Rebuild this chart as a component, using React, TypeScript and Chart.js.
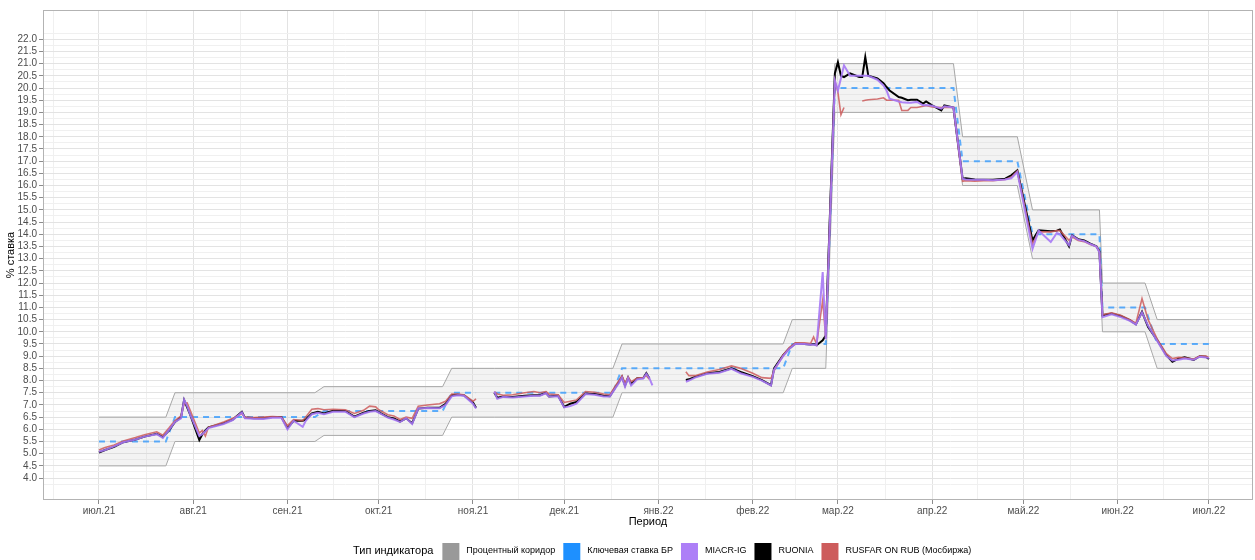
import React, { useEffect, useRef } from "react";
import { Chart, registerables } from "chart.js";
Chart.register(...registerables);

const FONT = '"Liberation Sans", Arial, sans-serif';

// x: days since 2021-07-01
const monthDays = [0, 31, 62, 92, 123, 153, 184, 215, 243, 274, 304, 335, 365];
const monthLabels = ["июл.21", "авг.21", "сен.21", "окт.21", "ноя.21", "дек.21", "янв.22", "фев.22", "мар.22", "апр.22", "май.22", "июн.22", "июл.22"];
const yBreaks = [4, 4.5, 5, 5.5, 6, 6.5, 7, 7.5, 8, 8.5, 9, 9.5, 10, 10.5, 11, 11.5, 12, 12.5, 13, 13.5, 14, 14.5, 15, 15.5, 16, 16.5, 17, 17.5, 18, 18.5, 19, 19.5, 20, 20.5, 21, 21.5, 22];

// Key rate (business-day change points)
const keyDays = [0, 22, 25, 71, 74, 113, 116, 124, 127, 130, 169, 172, 225, 228, 239, 242, 281, 284, 302, 307, 329, 330, 344, 348, 365];
const keyRate = [5.5, 5.5, 6.5, 6.5, 6.75, 6.75, 7.5, 7.5, null, 7.5, 7.5, 8.5, 8.5, 9.5, 9.5, 20, 20, 17, 17, 14, 14, 11, 11, 9.5, 9.5];

// Market rates
const rateDays = [0, 2, 5, 8, 12, 15, 19, 21, 23, 25, 27, 28, 29, 30, 33, 34, 35, 36, 41, 44, 47, 48, 51, 54, 57, 60, 62, 64, 67, 68, 70, 72, 74, 77, 81, 84, 87, 89, 91, 92, 95, 97, 99, 101, 103, 105, 108, 112, 114, 116, 118, 120, 123, 124, 127, 130, 131, 133, 136, 140, 143, 145, 147, 148, 151, 153, 155, 157, 160, 163, 166, 168, 171, 172, 173, 174, 175, 177, 179, 180, 181, 182, 187, 193, 194, 196, 200, 204, 208, 211, 215, 218, 221, 222, 225, 227, 229, 232, 234, 235, 236, 238, 239, 242, 243, 244, 245, 247, 250, 251, 252, 253, 256, 258, 259, 260, 263, 264, 266, 267, 269, 271, 272, 274, 277, 278, 281, 284, 285, 288, 291, 294, 298, 300, 302, 307, 309, 313, 315, 316, 319, 320, 322, 324, 326, 328, 329, 330, 333, 336, 339, 341, 343, 345, 348, 351, 353, 355, 357, 360, 362, 364, 365];
const ruonia = [5.05, 5.15, 5.28, 5.47, 5.58, 5.7, 5.82, 5.68, 5.95, 6.3, 6.5, 7.2, 6.9, 6.6, 5.56, 5.8, 5.95, 6.08, 6.25, 6.4, 6.72, 6.48, 6.45, 6.45, 6.5, 6.5, 6.05, 6.35, 6.35, 6.4, 6.65, 6.72, 6.65, 6.76, 6.75, 6.52, 6.68, 6.75, 6.78, 6.7, 6.5, 6.45, 6.32, 6.45, 6.25, 6.85, 6.88, 6.88, 7.05, 7.4, 7.42, 7.4, 7.1, 6.88, null, 7.5, 7.3, 7.35, 7.33, 7.38, 7.4, 7.4, 7.5, 7.35, 7.38, 6.92, 7.05, 7.12, 7.47, 7.45, 7.38, 7.36, 7.95, 8.15, 7.8, 8.12, 7.86, 8.09, 8.1, 8.3, 8.09, null, null, 8.02, 8.05, 8.15, 8.3, 8.35, 8.5, 8.35, 8.18, 8.02, 7.81, 8.5, 9.04, 9.32, 9.52, 9.5, 9.48, 9.5, 9.45, 9.65, 9.85, 20.6, 21.06, 20.5, 20.45, 20.6, 20.45, 20.45, 21.27, 20.5, 20.39, 20.2, 20.04, 19.9, 19.63, 19.6, 19.5, 19.52, 19.52, 19.36, 19.45, 19.29, 19.08, 19.29, 19.2, 16.28, 16.3, 16.25, 16.24, 16.24, 16.28, 16.42, 16.62, 13.75, 14.16, 14.12, 14.15, 14.2, 13.51, 13.96, 13.8, 13.75, 13.62, 13.51, 13.3, 10.68, 10.75, 10.65, 10.48, 10.31, 10.82, 10.2, 9.66, 9.04, 8.77, 8.9, 8.95, 8.85, 9.0, 8.98, 8.88];
const miacr = [5.08, 5.15, 5.3, 5.47, 5.58, 5.7, 5.8, 5.65, 5.97, 6.3, 6.45, 7.22, 6.95, 6.6, 5.72, 5.8, 5.92, 6.05, 6.22, 6.38, 6.7, 6.45, 6.43, 6.42, 6.47, 6.47, 6.0, 6.35, 6.1, 6.35, 6.62, 6.68, 6.62, 6.72, 6.72, 6.5, 6.65, 6.72, 6.75, 6.68, 6.48, 6.4, 6.3, 6.45, 6.22, 6.85, 6.87, 6.86, 7.0, 7.35, 7.4, 7.38, 7.05, 6.85, null, 7.55, 7.25, 7.33, 7.3, 7.35, 7.38, 7.38, 7.48, 7.35, 7.36, 6.9, 6.95, 7.05, 7.45, 7.42, 7.35, 7.35, 7.9, 8.12, 7.75, 8.1, 7.8, 8.05, 8.08, 8.28, 8.1, 7.8, null, 7.95, 8.0, 8.12, 8.28, 8.32, 8.48, 8.3, 8.15, 8.0, 7.8, 8.45, 9.0, 9.3, 9.5, 9.5, 9.47, 9.48, 9.44, 12.45, 9.7, 20.3, 19.9, 20.4, 20.93, 20.5, 20.5, 20.5, 20.5, 20.5, 20.34, 20.1, 19.9, 19.56, 19.45, 19.42, 19.4, 19.4, 19.43, 19.29, 19.3, 19.27, 19.15, 19.25, 19.2, 16.28, 16.25, 16.24, 16.24, 16.22, 16.25, 16.3, 16.55, 13.4, 14.15, 13.68, 14.05, 14.0, 13.55, 13.95, 13.78, 13.72, 13.6, 13.5, 13.25, 10.6, 10.72, 10.6, 10.45, 10.3, 10.8, 10.25, 9.62, 9.0, 8.82, 8.85, 8.9, 8.85, 8.98, 8.95, 8.92];
const rusfar = [5.15, 5.25, 5.36, 5.52, 5.66, 5.78, 5.9, 5.76, 6.05, 6.36, 6.55, 7.05, 7.08, 6.78, 5.85, 5.95, 5.72, 6.08, 6.3, 6.45, 6.65, 6.5, 6.48, 6.5, 6.52, 6.5, 6.15, 6.4, 6.35, 6.5, 6.82, 6.85, 6.8, 6.82, 6.8, 6.65, 6.78, 6.95, 6.92, 6.8, 6.6, 6.55, 6.4, 6.5, 6.45, 6.95, 7.0, 7.05, 7.15, 7.45, 7.45, 7.42, 7.15, 7.25, null, 7.55, 7.45, 7.4, 7.42, 7.5, 7.55, 7.5, 7.55, 7.45, 7.42, 7.1, 7.15, 7.2, 7.55, 7.52, 7.45, 7.42, 8.0, 8.2, 7.9, 8.15, 7.95, 8.1, 8.12, 8.2, 8.05, null, null, 8.36, 8.2, 8.2, 8.35, 8.45, 8.6, 8.5, 8.3, 8.12, 8.09, 8.4, 9.05, 9.35, 9.55, 9.55, 9.52, 9.79, 9.5, 11.3, 9.75, 20.3, 19.83, 18.9, 19.2, null, null, 19.47, 19.5, 19.52, 19.55, 19.6, 19.5, 19.5, 19.5, 19.08, 19.08, 19.2, 19.2, 19.25, 19.28, 19.22, 19.2, 19.2, 19.2, 16.17, 16.2, 16.18, 16.2, 16.2, 16.25, 16.35, 16.6, 13.6, 14.1, 14.1, 14.15, 14.15, 13.75, 13.9, 13.75, 13.7, 13.58, 13.5, 13.3, 10.7, 10.78, 10.68, 10.5, 10.35, 11.36, 10.5, 9.7, 9.1, 8.9, 8.95, 8.93, 8.88, 9.0, 9.0, 8.95];

const seriesNames = ["Процентный коридор", "Ключевая ставка БР", "MIACR-IG", "RUONIA", "RUSFAR ON RUB (Мосбиржа)"];
const seriesColors = ["#999999", "#1E90FF", "#AD7FF7", "#000000", "#CD5C5C"];
const legendTitle = "Тип индикатора";
const xTitle = "Период";
const yTitle = "% ставка";

function pts(days: number[], vals: (number | null)[]) {
  return days.map((d, i) => ({ x: d, y: vals[i] }));
}

export default function App() {
  const ref = useRef<HTMLCanvasElement>(null);
  useEffect(() => {
    document.body.style.margin = "0";
    const cDays: number[] = [];
    const cLow: number[] = [];
    const cHigh: number[] = [];
    keyDays.forEach((d, i) => {
      const v = keyRate[i];
      if (v !== null) { cDays.push(d); cLow.push(v - 1); cHigh.push(v + 1); }
    });
    const xMinor: number[] = [-15];
    for (let i = 0; i < monthDays.length - 1; i++) xMinor.push((monthDays[i] + monthDays[i + 1]) / 2);
    const xTicks = [...monthDays, ...xMinor].sort((a, b) => a - b);
    const yTicks: number[] = [];
    for (let v = 3.75; v <= 22.26; v += 0.25) yTicks.push(Math.round(v * 100) / 100);
    const isMajorY = (v: number) => yBreaks.includes(v);
    const isMajorX = (v: number) => monthDays.includes(v);

    const decor = {
      id: "decor",
      afterDraw(chart: any) {
        const { ctx, chartArea: a } = chart;
        ctx.save();
        ctx.strokeStyle = "#B3B3B3";
        ctx.lineWidth = 1;
        ctx.strokeRect(a.left + 0.5, a.top + 0.5, a.right - a.left - 1, a.bottom - a.top - 1);
        ctx.fillStyle = "#000";
        ctx.font = `11px ${FONT}`;
        ctx.textAlign = "center";
        ctx.textBaseline = "middle";
        ctx.fillText(xTitle, (a.left + a.right) / 2, 522);
        ctx.save();
        ctx.translate(11, (a.top + a.bottom) / 2);
        ctx.rotate(-Math.PI / 2);
        ctx.fillText(yTitle, 0, 0);
        ctx.restore();
        // legend
        let x = 353;
        const yc = 551;
        ctx.textAlign = "left";
        ctx.font = `11px ${FONT}`;
        ctx.fillText(legendTitle, x, yc);
        x += ctx.measureText(legendTitle).width + 9;
        ctx.font = `9px ${FONT}`;
        seriesNames.forEach((n, i) => {
          ctx.fillStyle = seriesColors[i];
          ctx.fillRect(x, yc - 8, 17, 17);
          x += 17 + 7;
          ctx.fillStyle = "#000";
          ctx.fillText(n, x, yc);
          x += ctx.measureText(n).width + 8;
        });
        ctx.restore();
      },
    };

    const chart = new Chart(ref.current!, {
      type: "line",
      data: {
        datasets: [
          { label: "low", data: pts(cDays, cLow), borderColor: "#A6A6A6", borderWidth: 1, fill: false, order: 10 },
          { label: seriesNames[0], data: pts(cDays, cHigh), borderColor: "#A6A6A6", borderWidth: 1, fill: "-1", backgroundColor: "rgba(200,200,200,0.22)", order: 9 },
          { label: seriesNames[1], data: pts(keyDays, keyRate), borderColor: "rgba(30,144,255,0.7)", borderWidth: 2, borderDash: [6, 5], fill: false, order: 4 },
          { label: seriesNames[3], data: pts(rateDays, ruonia), borderColor: "#000000", borderWidth: 2, fill: false, order: 3 },
          { label: seriesNames[4], data: pts(rateDays, rusfar), borderColor: "rgba(205,92,92,0.85)", borderWidth: 1.6, fill: false, order: 2 },
          { label: seriesNames[2], data: pts(rateDays, miacr), borderColor: "rgba(166,120,245,0.9)", borderWidth: 2, fill: false, order: 1 },
        ],
      },
      options: {
        responsive: false,
        animation: false,
        devicePixelRatio: 1,
        layout: { padding: { left: 0, top: 10, right: 2, bottom: 0 } },
        plugins: { legend: { display: false }, tooltip: { enabled: false } },
        elements: { point: { radius: 0 }, line: { tension: 0 } },
        spanGaps: false,
        scales: {
          x: {
            type: "linear",
            min: -18.4,
            max: 379.5,
            afterBuildTicks: (s: any) => { s.ticks = xTicks.map((v) => ({ value: v })); },
            afterFit: (s: any) => { s.height = 60; },
            ticks: {
              autoSkip: false,
              maxRotation: 0,
              padding: 1,
              color: "#4D4D4D",
              font: { size: 10, family: FONT },
              callback: (v: any) => { const i = monthDays.indexOf(v); return i >= 0 ? monthLabels[i] : ""; },
            },
            grid: {
              color: (c: any) => (isMajorX(c.tick?.value) ? "#E3E3E3" : "#F0F0F0"),
              tickColor: (c: any) => (isMajorX(c.tick?.value) ? "#8C8C8C" : "rgba(0,0,0,0)"),
              tickLength: 4,
              lineWidth: 1,
            },
            border: { display: false },
          },
          y: {
            type: "linear",
            min: 3.1,
            max: 23.2,
            afterBuildTicks: (s: any) => { s.ticks = yTicks.map((v) => ({ value: v })); },
            afterFit: (s: any) => { s.width = 43; },
            ticks: {
              autoSkip: false,
              padding: 2,
              color: "#4D4D4D",
              font: { size: 10, family: FONT },
              callback: (v: any) => (isMajorY(v) ? Number(v).toFixed(1) : ""),
            },
            grid: {
              color: (c: any) => (isMajorY(c.tick?.value) ? "#E3E3E3" : "#F0F0F0"),
              tickColor: (c: any) => (isMajorY(c.tick?.value) ? "#8C8C8C" : "rgba(0,0,0,0)"),
              tickLength: 4,
              lineWidth: 1,
            },
            border: { display: false },
          },
        },
      },
      plugins: [decor],
    } as any);
    return () => chart.destroy();
  }, []);
  return <canvas ref={ref} width={1255} height={560} style={{ display: "block" }} />;
}
